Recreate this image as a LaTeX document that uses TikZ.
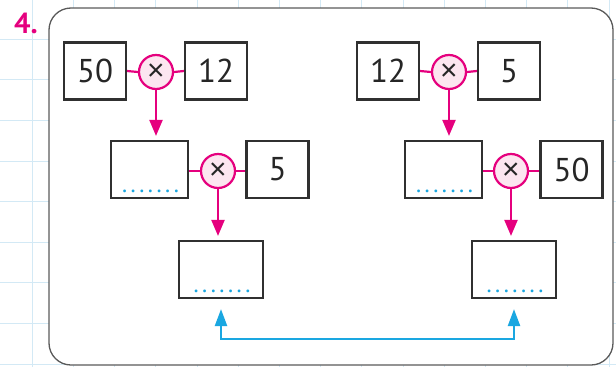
\documentclass[tikz,border=0pt]{standalone}
\usepackage{fontspec}
\setmainfont{PT Sans}
\newfontfamily\xfont{Liberation Sans}
\usetikzlibrary{arrows.meta}
\definecolor{mag}{HTML}{E5007E}
\definecolor{pinkfill}{HTML}{FCE6F0}
\definecolor{cy}{HTML}{1AA7E1}
\definecolor{gridc}{HTML}{D3E9F5}
\definecolor{boxc}{HTML}{303030}
\definecolor{framec}{HTML}{5A5A5A}
\tikzset{
  numbox/.style={draw=boxc, line width=2.2pt, minimum width=62pt, minimum height=57pt, inner sep=0pt,
     font=\fontsize{33}{38}\selectfont, text=black!85},
  blankbox/.style={draw=boxc, line width=2.2pt, minimum width=77pt, minimum height=57pt, inner sep=0pt},
  resbox/.style={blankbox, minimum width=84pt},
  timesc/.style={circle, draw=mag, fill=pinkfill, line width=2.2pt, minimum size=34pt, inner sep=0pt,
     font=\xfont\fontsize{30}{30}\selectfont, text=black!85},
  link/.style={draw=mag, line width=2.2pt},
  marrow/.style={draw=mag, line width=2.2pt, -{Triangle[length=16pt,width=13pt]}, shorten >=4pt},
  barrow/.style={draw=cy, line width=2.4pt, {Triangle[length=17pt,width=12pt]}-{Triangle[length=17pt,width=12pt]}},
  dotsty/.style={anchor=base, inner sep=0pt, text=cy, font=\fontsize{24}{24}\selectfont\addfontfeature{LetterSpace=8}}
}
\begin{document}
\begin{tikzpicture}[x=1pt,y=-1pt]
\useasboundingbox (0,0) rectangle (616,367);
% grid
\foreach \k in {0,...,14} \draw[gridc, line width=0.6pt] (32+41.2*\k,0) -- (32+41.2*\k,367);
\foreach \k in {-1,...,8} \draw[gridc, line width=0.6pt] (0,39+40.6*\k) -- (616,39+40.6*\k);
% frame
\draw[framec, fill=white, line width=1.3pt, rounded corners=22pt] (49,8) rectangle (613,365);
\node[text=mag, font=\fontsize{29}{29}\selectfont\bfseries, anchor=base west, inner sep=0pt] (num) at (14,33) {4.};
% left chain
\node[numbox] (a1) at (95,71) {50};
\node[timesc] (c1) at (156,72) {×};
\node[numbox] (a2) at (216,71) {12};
\node[blankbox] (b1) at (149.5,169.5) {};
\node[dotsty] (b1d) at ([yshift=7pt,xshift=1pt]b1.south) {.......};
\node[timesc] (c2) at (218,171) {×};
\node[numbox] (b2) at (277.5,169.5) {5};
\node[resbox] (d) at (221,269.5) {};
\node[dotsty] (dd) at ([yshift=7pt,xshift=1pt]d.south) {.......};
% right chain
\node[numbox] (e1) at (388,71) {12};
\node[timesc] (c3) at (449,72) {×};
\node[numbox] (e2) at (509,71) {5};
\node[blankbox] (f1) at (443.5,169.5) {};
\node[dotsty] (f1d) at ([yshift=7pt,xshift=1pt]f1.south) {.......};
\node[timesc] (c4) at (511,171) {×};
\node[numbox] (f2) at (571.5,169.5) {50};
\node[resbox] (g) at (514,269.5) {};
\node[dotsty] (gd) at ([yshift=7pt,xshift=1pt]g.south) {.......};
% links
\draw[link] (a1.east) -- (c1.west);
\draw[link] (c1.east) -- (a2.west);
\draw[link] (b1.east |- c2) -- (c2.west);
\draw[link] (c2.east) -- (b2.west |- c2);
\draw[link] (e1.east) -- (c3.west);
\draw[link] (c3.east) -- (e2.west);
\draw[link] (f1.east |- c4) -- (c4.west);
\draw[link] (c4.east) -- (f2.west |- c4);
% arrows
\draw[marrow] (c1.south) -- (c1.south |- b1.north);
\draw[marrow] (c2.south) -- (c2.south |- d.north);
\draw[marrow] (c3.south) -- (c3.south |- f1.north);
\draw[marrow] (c4.south) -- (c4.south |- g.north);
\coordinate (dl) at ([yshift=-10pt]d.south);
\coordinate (gl) at ([yshift=-10pt]g.south);
\draw[barrow] (dl) -- ++(0,30) -| (gl);
\end{tikzpicture}
\end{document}
